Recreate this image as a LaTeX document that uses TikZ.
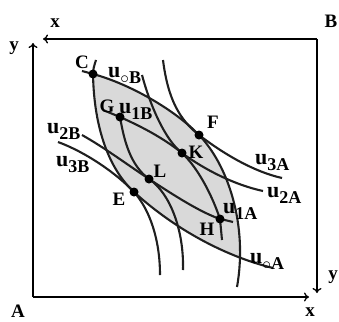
\documentclass[tikz,border=0pt]{standalone}
\usepackage{fontspec}
\setmainfont{Liberation Serif}
\usetikzlibrary{arrows.meta}
\newcommand{\ulab}[1]{{\fontsize{22}{22}\selectfont u}\raisebox{-6pt}{\fontsize{18}{18}\selectfont #1}}
\begin{document}
\begin{tikzpicture}[x=1pt,y=-1pt,
  font=\bfseries\fontsize{19}{19}\selectfont,
  curve/.style={line width=2.1pt, draw=black!88},
  boxline/.style={line width=1.3pt},
  arr/.style={-{To[length=5pt,width=9pt]}},
  dot/.style={circle, fill=black, inner sep=0pt, minimum size=9pt},
  lab/.style={inner sep=0pt},
  ulabel/.style={inner sep=0pt, anchor=base west}]
\useasboundingbox (0,0) rectangle (339,321);
% key points
\coordinate (C) at (93,74);
\coordinate (G) at (120,117);
\coordinate (F) at (199,135);
\coordinate (K) at (182,153);
\coordinate (L) at (149,179);
\coordinate (E) at (134,192);
\coordinate (H) at (220,219);
% box corners and arrow ends
\coordinate (A0) at (33,297);
\coordinate (B0) at (317,39);
\coordinate (xA) at (309,297);
\coordinate (yA) at (33,43);
\coordinate (xB) at (43,39);
\coordinate (yB) at (317,293);
% lens
\begin{scope}
\clip (96,40) -- (96,60) .. controls (94,66) and (93,70) .. (C) .. controls (94,130) and (110,170) .. (E) .. controls (170,225) and (220,255) .. (273,268) -- (330,268) -- (330,40) -- cycle;
\fill[black!15] (60,71) -- (82,71) -- (C) .. controls (130,84) and (175,110) .. (F) .. controls (228,165) and (248,225) .. (237,287) -- (60,287) -- cycle;
\end{scope}
% box
\draw[boxline,arr] (A0) -- (xA);
\draw[boxline,arr] (A0) -- (yA);
\draw[boxline,arr] (B0) -- (xB);
\draw[boxline,arr] (B0) -- (yB);
% indifference curves
\draw[curve] (96,60) .. controls (94,66) and (93,70) .. (C) .. controls (94,130) and (110,170) .. (E) .. controls (170,225) and (220,255) .. (273,268);
\draw[curve] (82,71) -- (C) .. controls (130,84) and (175,110) .. (F) .. controls (228,165) and (248,225) .. (237,287);
\draw[curve] (G) .. controls (124,140) and (130,165) .. (L) .. controls (175,196) and (200,212) .. (H) .. controls (225,220) and (229,221) .. (233,222);
\draw[curve] (103,110) -- (G) .. controls (140,126) and (162,137) .. (K) .. controls (198,168) and (212,195) .. (H) -- (222,240);
\draw[curve] (142,75) .. controls (150,105) and (165,140) .. (K) .. controls (205,170) and (235,185) .. (263,191);
\draw[curve] (82,135) .. controls (105,148) and (125,163) .. (L) .. controls (170,193) and (184,230) .. (183,270);
\draw[curve] (163,60) .. controls (168,100) and (180,120) .. (F) .. controls (225,155) and (255,172) .. (282,178);
\draw[curve] (58,142) .. controls (85,152) and (115,172) .. (E) .. controls (150,210) and (160,240) .. (160,275);
% dots
\foreach \p in {C,G,F,K,L,E,H} \node[dot] (d\p) at (\p) {};
% letter labels
\node[lab] (lC) at (82,62) {C};
\node[lab] (lG) at (107,106) {G};
\node[lab] (lF) at (213,122) {F};
\node[lab] (lK) at (196,152) {K};
\node[lab] (lL) at (160,171) {L};
\node[lab] (lE) at (119,199) {E};
\node[lab] (lH) at (207,229) {H};
\node[lab] (lxt) at (55,23) {x};
\node[lab] (lyl) at (14,48) {y};
\node[lab] (lB) at (331,21) {B};
\node[lab] (lA) at (18,311) {A};
\node[lab] (lxb) at (310,312) {x};
\node[lab] (lyr) at (333,277) {y};
% utility labels
\node[ulabel] (u0B) at (108,77) {\ulab{$\circ$B}};
\node[ulabel] (u1B) at (119,113) {\ulab{1B}};
\node[ulabel] (u2B) at (47,133) {\ulab{2B}};
\node[ulabel] (u3B) at (56,166) {\ulab{3B}};
\node[ulabel] (u3A) at (255,164) {\ulab{3A}};
\node[ulabel] (u2A) at (267,197) {\ulab{2A}};
\node[ulabel] (u1A) at (223,213) {\ulab{1A}};
\node[ulabel] (u0A) at (250,263) {\ulab{$\circ$A}};
\end{tikzpicture}
\end{document}
